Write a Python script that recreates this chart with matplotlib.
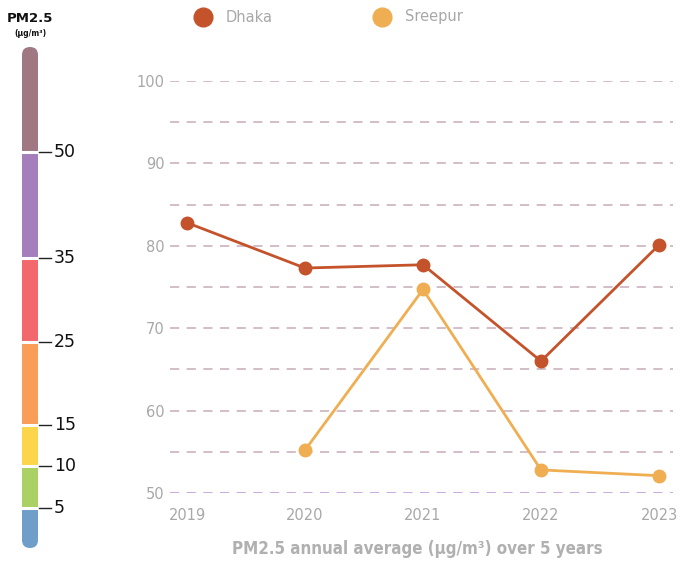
import numpy as np
import matplotlib
matplotlib.use("Agg")
import matplotlib.pyplot as plt
from matplotlib.patches import Rectangle, FancyBboxPatch

# data
years = [2019, 2020, 2021, 2022, 2023]
dhaka = [82.8, 77.3, 77.7, 66.0, 80.1]
sreepur = [np.nan, 55.2, 74.7, 52.8, 52.1]

# PM2.5 scale on the left
scale_breaks = [5, 10, 15, 25, 35, 50]
scale_colors = ['#6f9fc8', '#abd063', '#fdd54a', '#f99d58', '#f2686c', '#a47fbb', '#a07883']

W, H = 685, 563
fig = plt.figure(figsize=(W / 100, H / 100), dpi=100)

# ---- main line chart
ax = fig.add_axes([170 / W, 1 - 493 / H, (673 - 170) / W, 412 / H])
ax.set_xlim(2019 - 17 / 118, 2023 + 14 / 118)
ax.set_ylim(50, 100)
for v in range(50, 101, 5):
    col = '#c19bd8' if v == 50 else '#cbb2bf'
    ax.axhline(v, color=col, lw=1.2, dashes=(5.5, 4.5), zorder=1)

ax.plot(years, dhaka, color='#c4532b', lw=2, marker='o', ms=9, zorder=3)
ax.plot(years, sreepur, color='#f0ae53', lw=2, marker='o', ms=9, zorder=3)

ax.set_yticks(range(50, 101, 10))
ax.set_xticks(years)
ax.tick_params(axis='y', length=0, labelsize=10.5, labelcolor='#a8a8a8', pad=4)
ax.tick_params(axis='x', length=0, labelsize=10.5, labelcolor='#a8a8a8', pad=11)
for s in ax.spines.values():
    s.set_visible(False)

fig.text(417 / W, 1 - 549 / H, 'PM2.5 annual average (µg/m³) over 5 years',
         ha='center', va='center', fontsize=12.2, fontweight='bold', color='#b0b0b0',
         family='DejaVu Sans', fontstretch='condensed')

# legend
for x, name, col in [(203, 'Dhaka', '#c4532b'), (382, 'Sreepur', '#f0ae53')]:
    fig.add_artist(plt.Line2D([x / W], [1 - 17 / H], marker='o', ms=13.5, color=col, ls=''))
    fig.text((x + 23) / W, 1 - 17 / H, name, ha='left', va='center', fontsize=10.5, color='#a8a8a8')

# ---- colour scale (pixel coordinates)
cb = fig.add_axes([0, 0, 1, 1], zorder=-1)
cb.set_xlim(0, W)
cb.set_ylim(H, 0)
cb.axis('off')
bar_x0, bar_x1, bar_top, bar_bot = 22, 38, 47, 548
break_px = [508, 466, 425, 342, 258, 152]
edges = [bar_bot] + break_px + [bar_top]
clip = FancyBboxPatch((bar_x0, bar_top), bar_x1 - bar_x0, bar_bot - bar_top,
                      boxstyle='round,pad=0,rounding_size=8', transform=cb.transData,
                      facecolor='none', edgecolor='none')
cb.add_patch(clip)
for i, col in enumerate(scale_colors):
    r = Rectangle((bar_x0, edges[i + 1]), bar_x1 - bar_x0, edges[i] - edges[i + 1],
                  facecolor=col, edgecolor='none')
    cb.add_patch(r)
    r.set_clip_path(clip)
for val, yp in zip(scale_breaks, break_px):
    cb.plot([bar_x0, bar_x1], [yp, yp], color='white', lw=2.2)
    cb.plot([bar_x1 + 1, bar_x1 + 13], [yp, yp], color='#222222', lw=1)
    cb.text(bar_x1 + 16, yp, str(val), ha='left', va='center', fontsize=12.5, color='#111111')

fig.text(30 / W, 1 - 18 / H, 'PM2.5', ha='center', va='center', fontsize=9.5,
         fontweight='bold', color='#111111')
fig.text(30 / W, 1 - 33 / H, '(µg/m³)', ha='center', va='center', fontsize=5.5,
         fontweight='bold', color='#111111')

fig.savefig('out.png', dpi=100)
